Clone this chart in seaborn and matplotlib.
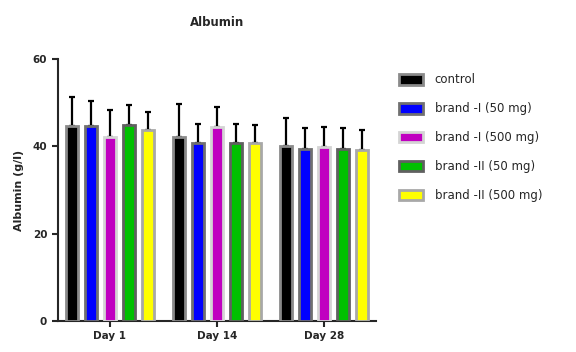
import pandas as pd
import matplotlib
matplotlib.use("Agg")
import matplotlib.pyplot as plt
import seaborn as sns

# values
days = ["Day 1", "Day 14", "Day 28"]
groups = ["control", "brand -I (50 mg)", "brand -I (500 mg)",
          "brand -II (50 mg)", "brand -II (500 mg)"]
control = [44.6, 42.2, 40.0]
brand1_50 = [44.6, 40.7, 39.5]
brand1_500 = [42.1, 44.5, 39.9]
brand2_50 = [44.9, 40.7, 39.5]
brand2_500 = [43.7, 40.7, 39.2]
control_sd = [6.7, 7.6, 6.6]
brand1_50_sd = [5.7, 4.5, 4.8]
brand1_500_sd = [6.2, 4.5, 4.6]
brand2_50_sd = [4.5, 4.5, 4.8]
brand2_500_sd = [4.1, 4.3, 4.5]

means = [control, brand1_50, brand1_500, brand2_50, brand2_500]
sds = [control_sd, brand1_50_sd, brand1_500_sd, brand2_50_sd, brand2_500_sd]
colors = ["#000000", "#0000ff", "#c000c0", "#00c000", "#ffff00"]
edges = ["#8a8a8a", "#707070", "#d4d4d4", "#606060", "#a8a8a8"]

rows = []
for g, vals in zip(groups, means):
    for d, v in zip(days, vals):
        rows.append({"day": d, "group": g, "albumin": v})
df = pd.DataFrame(rows)

sns.set_style("ticks")
plt.rcParams["font.family"] = ["DejaVu Sans"]

fig = plt.figure(figsize=(5.76, 3.52), dpi=100)
ax = fig.add_axes([0.1, 0.088, 0.553, 0.744])

sns.barplot(data=df, x="day", y="albumin", hue="group", order=days,
            hue_order=groups, palette=colors, saturation=1, width=0.89,
            gap=0.36, errorbar=None, legend=False, ax=ax)

for cont, ec, sd in zip(ax.containers, edges, sds):
    xs = []
    ys = []
    for p in cont.patches:
        p.set_edgecolor(ec)
        p.set_linewidth(2.0)
        p.set_zorder(3)
        xs.append(p.get_x() + p.get_width() / 2)
        ys.append(p.get_height())
    ax.errorbar(xs, ys, yerr=[[0] * len(sd), sd], fmt="none", ecolor="black",
                elinewidth=1.6, capsize=2.2, capthick=1.6, zorder=2)

ax.set_xlim(-0.49, 2.49)
ax.set_ylim(0, 60)
ax.set_yticks([0, 20, 40, 60])
ax.set_xlabel("")
ax.set_ylabel("Albumin (g/l)", fontsize=8, fontweight="bold", labelpad=6)
ax.set_title("Albumin", fontsize=8.5, fontweight="bold", pad=24)
ax.tick_params(axis="both", labelsize=7.5, width=1.5, length=4)
for lbl in ax.get_xticklabels() + ax.get_yticklabels():
    lbl.set_fontweight("bold")
sns.despine(ax=ax)
ax.spines["left"].set_linewidth(1.5)
ax.spines["bottom"].set_linewidth(1.5)

ax.legend(handles=ax.containers, labels=groups, loc="upper left",
          bbox_to_anchor=(0.685, 0.805), bbox_transform=fig.transFigure,
          frameon=False, fontsize=8.5, labelspacing=1.35,
          handlelength=2.0, handleheight=1.0, handletextpad=1.0,
          borderaxespad=0)

fig.savefig("out.png", dpi=100)
